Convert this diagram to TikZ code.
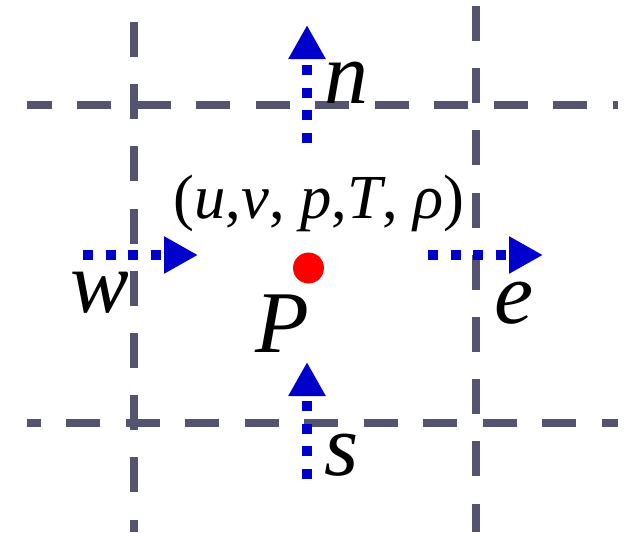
\documentclass[tikz,border=0pt]{standalone}
\usepackage{fontspec}
\setmainfont{Liberation Serif}
\usetikzlibrary{arrows.meta}
\definecolor{gridgray}{RGB}{84,84,112}
\definecolor{fluxblue}{RGB}{0,0,205}
\tikzset{
	gridh/.style={gridgray,line width=6pt,dash pattern=on 25.5pt off 19.1pt},
	gridv/.style={gridgray,line width=6pt,dash pattern=on 26.25pt off 20.4pt},
	flux/.style={fluxblue,line width=7.5pt,dash pattern=on 7.5pt off 9.4pt,-{Triangle[length=25.5pt,width=26.25pt]}},
	face/.style={inner sep=0pt,anchor=base,font=\fontsize{66}{66}\selectfont\itshape},
}
\begin{document}
\begin{tikzpicture}[x=0.75pt,y=-0.75pt]
		\useasboundingbox (0,0) rectangle (631,532);
		\draw[gridh,dash phase=6.75pt] (27,105) to (618,105);
		\draw[gridh,dash phase=15pt] (27,423) to (618,423);
		\draw[gridv] (134,22) to (134,532);
		\draw[gridv] (476,6) to (476,532);
		\coordinate (w0) at (83,255);
		\coordinate (w1) at (198,255);
		\coordinate (e0) at (428,255);
		\coordinate (e1) at (543,255);
		\coordinate (n0) at (307,143);
		\coordinate (n1) at (307,25);
		\coordinate (s0) at (307,479);
		\coordinate (s1) at (307,362);
		\draw[flux] (w0) to (w1);
		\draw[flux] (e0) to (e1);
		\draw[flux] (n0) to (n1);
		\draw[flux] (s0) to (s1);
		\fill[red] (308.5,268) circle (11.6pt) coordinate (P);
		\node[face] (Plabel) at (282,352) {P};
		\node[face] (nlabel) at (346,103) {n};
		\node[face] (slabel) at (342,475) {s};
		\node[face] (elabel) at (514,323) {e};
		\node[face] (wlabel) at (100,312) {w};
		\node[inner sep=0pt,anchor=base,font=\fontsize{47}{47}\selectfont] (state) at (319,218)
			{(\textit{u},\textit{v}, \textit{p},\textit{T}, \textit{ρ})};
\end{tikzpicture}
\end{document}
